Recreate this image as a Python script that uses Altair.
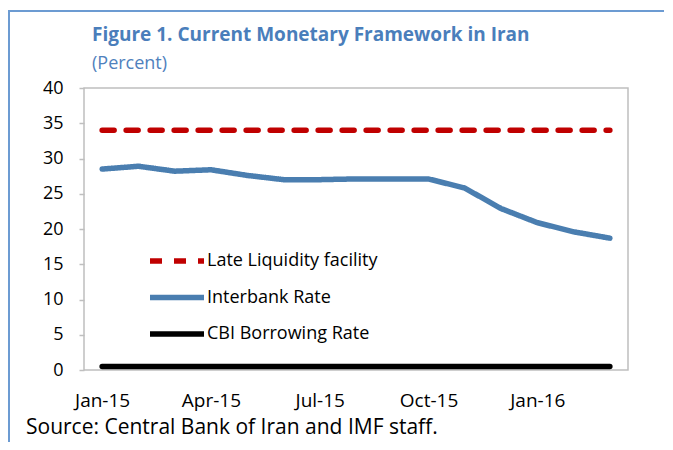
import altair as alt
import pandas as pd

months = ["Jan-15", "Feb-15", "Mar-15", "Apr-15", "May-15", "Jun-15", "Jul-15",
          "Aug-15", "Sep-15", "Oct-15", "Nov-15", "Dec-15", "Jan-16", "Feb-16", "Mar-16"]
late_liquidity = [34, 34, 34, 34, 34, 34, 34, 34, 34, 34, 34, 34, 34, 34, 34]
interbank = [28.5, 28.9, 28.2, 28.4, 27.6, 27.0, 27.0, 27.1, 27.1, 27.1, 25.8, 22.9, 20.9, 19.6, 18.7]
cbi_borrowing = [0.5, 0.5, 0.5, 0.5, 0.5, 0.5, 0.5, 0.5, 0.5, 0.5, 0.5, 0.5, 0.5, 0.5, 0.5]
series_names = ["Late Liquidity facility", "Interbank Rate", "CBI Borrowing Rate"]
series_colors = ["#C00000", "#4A7EB0", "#000000"]
x_labels = ["Jan-15", "Apr-15", "Jul-15", "Oct-15", "Jan-16"]
y_ticks = [0, 5, 10, 15, 20, 25, 30, 35, 40]

rows = []
for name, vals in zip(series_names, [late_liquidity, interbank, cbi_borrowing]):
    for m, v in zip(months, vals):
        rows.append({"month": m, "value": v, "series": name})
df = pd.DataFrame(rows)

FONT = "Open Sans"


def make_legend():
    return alt.Legend(orient="none", legendX=80, legendY=160, title=None,
                      symbolType="M-2.7,0H2.7", symbolSize=400,
                      symbolStrokeWidth=5.5, labelFontSize=18,
                      labelFont=FONT, labelColor="#000000", labelLimit=0,
                      rowPadding=12.5, labelOffset=17, padding=0)


lines = alt.Chart(df).mark_line(strokeWidth=5.5, strokeCap="round").encode(
    x=alt.X("month:O", sort=months, scale=alt.Scale(padding=0.5),
            axis=alt.Axis(values=x_labels, title=None, labelAngle=0, ticks=False,
                          domain=False, labelFontSize=19, labelFont=FONT,
                          labelColor="#000000", labelPadding=21)),
    y=alt.Y("value:Q", scale=alt.Scale(domain=[0, 40], nice=False),
            axis=alt.Axis(values=y_ticks, title=None, grid=False, domain=False,
                          tickSize=5, tickColor="#BFBFBF", tickWidth=1.5,
                          labelFontSize=18, labelFont=FONT, labelColor="#000000",
                          labelPadding=16)),
    color=alt.Color("series:N", sort=series_names,
                    scale=alt.Scale(domain=series_names, range=series_colors),
                    legend=make_legend()),
    strokeDash=alt.StrokeDash("series:N", sort=series_names,
                              scale=alt.Scale(domain=series_names,
                                              range=[[12, 12], [1, 0], [1, 0]]),
                              legend=make_legend()),
)

texts = pd.DataFrame({"t": [0]})
title = alt.Chart(texts).mark_text(
    text="Figure 1. Current Monetary Framework in Iran", align="left", baseline="alphabetic",
    font=FONT, fontSize=19, fontWeight="bold", color="#4A7EBB"
).encode(x=alt.value(8), y=alt.value(-47))
subtitle = alt.Chart(texts).mark_text(
    text="(Percent)", align="left", baseline="alphabetic",
    font=FONT, fontSize=18, color="#4F81BD"
).encode(x=alt.value(8), y=alt.value(-19))
source = alt.Chart(texts).mark_text(
    text="Source: Central Bank of Iran and IMF staff.", align="left", baseline="bottom",
    font=FONT, fontSize=21, color="#000000"
).encode(x=alt.value(-58), y=alt.value(350))

border_left = alt.Chart(texts).mark_rule(color="#6C9BD2", strokeWidth=2).encode(
    x=alt.value(-75), y=alt.value(-77), y2=alt.value(400))
border_top = alt.Chart(texts).mark_rule(color="#6C9BD2", strokeWidth=2).encode(
    x=alt.value(-76), x2=alt.value(700), y=alt.value(-77))

chart = alt.layer(lines, title, subtitle, source, border_left, border_top).properties(
    width=544, height=282,
    autosize=alt.AutoSizeParams(type="none"),
    padding={"left": 76, "top": 80, "right": 36, "bottom": 72},
    background="#FFFFFF",
).configure_view(stroke="#BFBFBF", strokeWidth=1.5)

chart.save("out.html", embed_options={"renderer": "svg", "actions": False})
